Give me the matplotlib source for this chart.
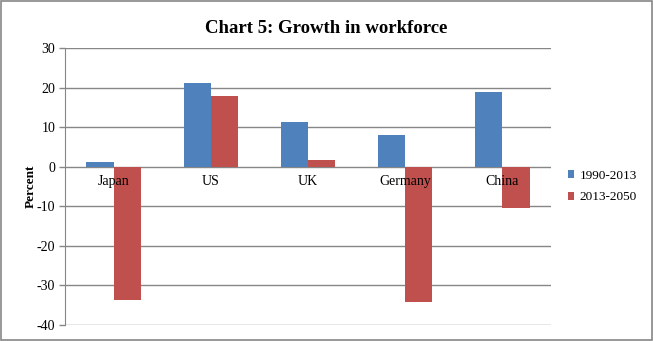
import matplotlib.pyplot as plt
import numpy as np
from matplotlib.patches import Rectangle

countries = ["Japan", "US", "UK", "Germany", "China"]
growth_1990_2013 = [1.1, 21.1, 11.3, 8.1, 18.8]
growth_2013_2050 = [-33.8, 17.8, 1.8, -34.3, -10.5]
series_names = ["1990-2013", "2013-2050"]

plt.rcParams['font.family'] = ['Liberation Serif', 'DejaVu Serif']
plt.rcParams['axes.unicode_minus'] = False

fig = plt.figure(figsize=(6.53, 3.41), dpi=100)
ax = fig.add_axes([0.0995, 0.047, 0.7443, 0.812])

x = np.arange(len(countries))
w = 0.28
ax.bar(x - w / 2, growth_1990_2013, w, color="#4F81BD", label=series_names[0], zorder=2)
ax.bar(x + w / 2, growth_2013_2050, w, color="#C0504D", label=series_names[1], zorder=2)

grey = "#868686"
ax.set_xlim(-0.5, len(countries) - 0.5)
ax.set_ylim(-40, 30)
ax.set_yticks(np.arange(-40, 31, 10))
ax.yaxis.grid(True, color=grey, linewidth=1)
ax.set_axisbelow(True)

for s in ["top", "right", "bottom"]:
    ax.spines[s].set_visible(False)
ax.spines["left"].set_color(grey)
ax.tick_params(axis="y", colors=grey, length=4, width=1, labelsize=10, labelcolor="black", pad=3)
ax.set_xticks([])

# category names sit just under the zero line, on top of the bars
for i, name in enumerate(countries):
    ax.annotate(name, (i, 0), xytext=(0, -6), textcoords="offset points",
                ha="center", va="top", fontsize=10, zorder=5)

ax.set_ylabel("Percent", fontsize=9.5, fontweight="bold", labelpad=0)

fig.text(0.5, 0.915, "Chart 5: Growth in workforce", ha="center", va="center",
         fontsize=13.5, fontweight="bold")

ax.legend(loc="center left", bbox_to_anchor=(1.01, 0.5), frameon=False,
          fontsize=9.5, handlelength=0.5, handleheight=0.5, handletextpad=0.4,
          labelspacing=0.75)

fig.patches.append(Rectangle((0.001, 0.002), 0.997, 0.995, transform=fig.transFigure,
                             fill=False, edgecolor=grey, linewidth=1.2))

fig.savefig("out.png", dpi=100)
